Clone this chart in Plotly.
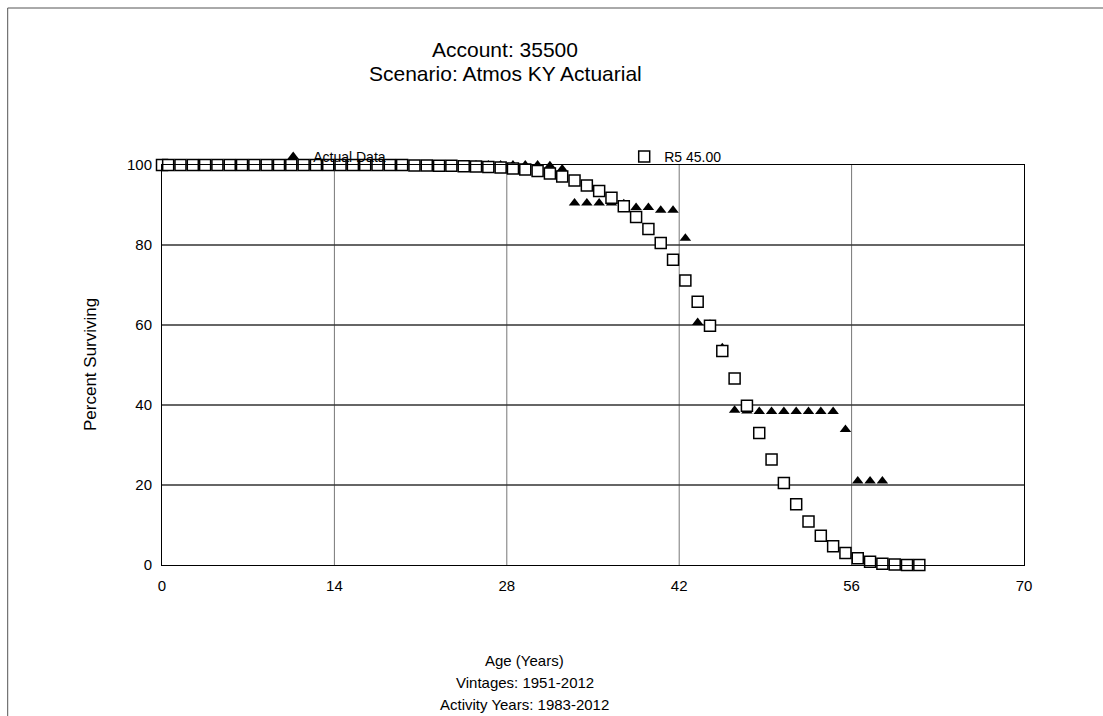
import plotly.graph_objects as go

# ---- data ----
r5_ages = [0, 0.5, 1.5, 2.5, 3.5, 4.5, 5.5, 6.5, 7.5, 8.5, 9.5, 10.5, 11.5, 12.5, 13.5, 14.5,
           15.5, 16.5, 17.5, 18.5, 19.5, 20.5, 21.5, 22.5, 23.5, 24.5, 25.5, 26.5, 27.5, 28.5,
           29.5, 30.5, 31.5, 32.5, 33.5, 34.5, 35.5, 36.5, 37.5, 38.5, 39.5, 40.5, 41.5, 42.5,
           43.5, 44.5, 45.5, 46.5, 47.5, 48.5, 49.5, 50.5, 51.5, 52.5, 53.5, 54.5, 55.5, 56.5,
           57.5, 58.5, 59.5, 60.5, 61.5]
r5_values = [100, 100, 100, 100, 100, 100, 100, 100, 100, 100, 100, 100, 100, 100, 100, 100,
             100, 100, 100, 100, 100, 99.9, 99.9, 99.8, 99.8, 99.7, 99.6, 99.5, 99.4, 99.1,
             98.9, 98.5, 97.9, 97.1, 96.1, 94.9, 93.5, 91.8, 89.7, 87.0, 84.0, 80.5, 76.3, 71.1,
             65.8, 59.8, 53.5, 46.6, 39.8, 33.0, 26.4, 20.5, 15.2, 10.9, 7.3, 4.7, 3.0, 1.7,
             0.8, 0.3, 0.1, 0, 0]

actual_ages = [0, 0.5, 1.5, 2.5, 3.5, 4.5, 5.5, 6.5, 7.5, 8.5, 9.5, 10.5, 11.5, 12.5, 13.5, 14.5,
               15.5, 16.5, 17.5, 18.5, 19.5, 20.5, 21.5, 22.5, 23.5, 24.5, 25.5, 26.5, 27.5, 28.5,
               29.5, 30.5, 31.5, 32.5, 33.5, 34.5, 35.5, 36.5, 37.5, 38.5, 39.5, 40.5, 41.5, 42.5,
               43.5, 44.5, 45.5, 46.5, 47.5, 48.5, 49.5, 50.5, 51.5, 52.5, 53.5, 54.5, 55.5, 56.5,
               57.5, 58.5]
actual_values = [100, 100, 100, 100, 100, 100, 100, 100, 100, 100, 100, 100, 100, 100, 100, 100,
                 100, 100, 100, 100, 100, 100, 100, 100, 100, 100, 100, 100, 100, 100,
                 100, 100, 99.8, 99.0, 90.5, 90.5, 90.5, 90.5, 90.3, 89.4, 89.4, 88.7, 88.7, 81.7,
                 60.6, 60.2, 54.3, 38.7, 38.5, 38.4, 38.4, 38.4, 38.4, 38.4, 38.4, 38.4, 33.9, 21.0,
                 21.0, 21.0]

x_ticks = [0, 14, 28, 42, 56, 70]
y_ticks = [0, 20, 40, 60, 80, 100]

title_lines = ["Account: 35500", "Scenario: Atmos KY Actuarial"]
x_title_lines = ["Age (Years)", "Vintages: 1951-2012", "Activity Years: 1983-2012"]

FONT = "Liberation Sans, Arial, sans-serif"

fig = go.Figure()
fig.add_trace(go.Scatter(
    x=actual_ages, y=actual_values, mode="markers", name="Actual Data",
    marker=dict(symbol="triangle-up", size=10, color="black"),
    cliponaxis=False,
))
fig.add_trace(go.Scatter(
    x=r5_ages, y=r5_values, mode="markers", name="R5 45.00",
    marker=dict(symbol="square", size=11, color="white", line=dict(color="black", width=1.5)),
    cliponaxis=False,
))

# vertical grid lines (gray) and horizontal (dark)
shapes = []
for xv in x_ticks[1:-1]:
    shapes.append(dict(type="line", xref="x", yref="y", x0=xv, x1=xv, y0=0, y1=100,
                       line=dict(color="#777777", width=1), layer="below"))
for yv in y_ticks[1:-1]:
    shapes.append(dict(type="line", xref="x", yref="y", x0=0, x1=70, y0=yv, y1=yv,
                       line=dict(color="#333333", width=1.6), layer="below"))
# outer frame (top and left edges)
shapes.append(dict(type="line", xref="paper", yref="paper", x0=-0.179, x1=1.1, y0=1.3925, y1=1.3925,
                   line=dict(color="#555555", width=1)))
shapes.append(dict(type="line", xref="paper", yref="paper", x0=-0.179, x1=-0.179, y0=1.3925, y1=-0.4,
                   line=dict(color="#555555", width=1)))

annotations = []
for i, t in enumerate(title_lines):
    annotations.append(dict(text=t, xref="paper", yref="paper", x=0.398, y=1.2875 - 0.06 * i,
                            xanchor="center", yanchor="middle", showarrow=False,
                            font=dict(family=FONT, size=21, color="black")))
for i, t in enumerate(x_title_lines):
    annotations.append(dict(text=t, xref="paper", yref="paper", x=0.421, y=-0.2375 - 0.055 * i,
                            xanchor="center", yanchor="middle", showarrow=False,
                            font=dict(family=FONT, size=15, color="black")))
annotations.append(dict(text="Percent Surviving", xref="paper", yref="paper", x=-0.0835, y=0.5,
                        textangle=-90, xanchor="center", yanchor="middle", showarrow=False,
                        font=dict(family=FONT, size=17, color="black")))

fig.update_layout(
    width=1103, height=716,
    margin=dict(l=162, r=79, t=165, b=151),
    paper_bgcolor="white", plot_bgcolor="white",
    font=dict(family=FONT, size=15, color="black"),
    showlegend=True,
    legend=dict(orientation="h", x=0.129, y=1.02, xanchor="left", yanchor="middle",
                entrywidth=306, entrywidthmode="pixels", bgcolor="rgba(0,0,0,0)",
                font=dict(family=FONT, size=14, color="black"), traceorder="normal"),
    xaxis=dict(range=[0, 70], tickvals=x_ticks, ticktext=[str(v) for v in x_ticks],
               showgrid=False, zeroline=False, showline=True, linecolor="black", linewidth=1,
               mirror=True, ticks="", ticklabelstandoff=7, tickfont=dict(family=FONT, size=15)),
    yaxis=dict(range=[0, 100], tickvals=y_ticks, ticktext=[str(v) for v in y_ticks],
               showgrid=False, zeroline=False, showline=True, linecolor="black", linewidth=1,
               mirror=True, ticks="", ticklabelstandoff=6, tickfont=dict(family=FONT, size=15)),
    shapes=shapes,
    annotations=annotations,
)

fig.write_html("out.html")
